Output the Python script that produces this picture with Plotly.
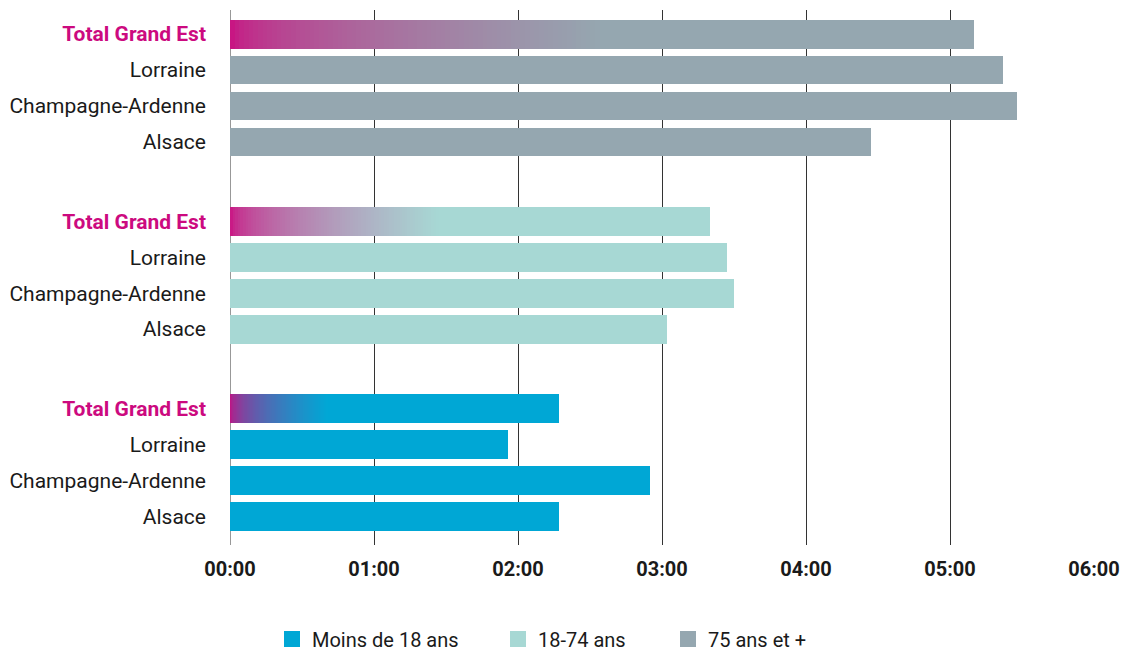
import plotly.graph_objects as go

# ---- data ----
regions = ["Total Grand Est", "Lorraine", "Champagne-Ardenne", "Alsace"]
series_names = ["75 ans et +", "18-74 ans", "Moins de 18 ans"]  # top to bottom in chart
minutes_75_plus = [310, 322, 328, 267]
minutes_18_74 = [200, 207, 210, 182]
minutes_under_18 = [137, 116, 175, 137]
tick_hours = [0, 1, 2, 3, 4, 5, 6]
tick_labels = ["00:00", "01:00", "02:00", "03:00", "04:00", "05:00", "06:00"]
legend_order = ["Moins de 18 ans", "18-74 ans", "75 ans et +"]

# ---- styles ----
MAGENTA = "#cc0a7f"
colors = {"Moins de 18 ans": "#00a7d5", "18-74 ans": "#a7d8d4", "75 ans et +": "#95a7b0"}
gradient_end_hours = {"75 ans et +": 2.6, "18-74 ans": 1.45, "Moins de 18 ans": 0.68}
legend_left_px = {"Moins de 18 ans": 272, "18-74 ans": 498, "75 ans et +": 668}
FONT = "Roboto"
GROUP_GAP = 1.2
BAR_W = 0.8
N_SEG = 80
EASE = 0.5

values = {"75 ans et +": minutes_75_plus, "18-74 ans": minutes_18_74,
          "Moins de 18 ans": minutes_under_18}


def hex_to_rgb(h):
    h = h.lstrip("#")
    return tuple(int(h[i:i + 2], 16) for i in (0, 2, 4))


def mix(c1, c2, t):
    a, b = hex_to_rgb(c1), hex_to_rgb(c2)
    return "rgb(%d,%d,%d)" % tuple(round(a[k] + (b[k] - a[k]) * t) for k in range(3))


fig = go.Figure()
tickvals, ticktext = [], []
for g, name in enumerate(series_names):
    ys = [g * (len(regions) + GROUP_GAP) + i for i in range(len(regions))]
    hours = [m / 60 for m in values[name]]
    fig.add_trace(go.Bar(
        y=ys, x=hours, orientation="h", width=BAR_W,
        marker=dict(color=colors[name], line=dict(width=0)),
        showlegend=False, hoverinfo="x+y", name=name))
    # gradient overlay on the "Total" bar
    gend = min(gradient_end_hours[name], hours[0])
    step = gend / N_SEG
    bases = [k * step for k in range(N_SEG)]
    widths = [step * 1.05] * N_SEG
    cols = [mix(MAGENTA, colors[name], ((k + 0.5) / N_SEG) ** EASE) for k in range(N_SEG)]
    fig.add_trace(go.Bar(
        y=[ys[0]] * N_SEG, x=widths, base=bases, orientation="h", width=BAR_W,
        marker=dict(color=cols, line=dict(width=0)),
        showlegend=False, hoverinfo="skip"))
    for i, r in enumerate(regions):
        tickvals.append(ys[i])
        if i == 0:
            ticktext.append("<b><span style='color:%s'>%s</span></b>" % (MAGENTA, r))
        else:
            ticktext.append(r)

# legend-only entries, one legend each so they can be spaced like the original
legend_layouts = {}
for j, name in enumerate(legend_order):
    key = "legend" if j == 0 else "legend%d" % (j + 1)
    fig.add_trace(go.Scatter(
        x=[None], y=[None], mode="markers", name=name, legend=key,
        marker=dict(symbol="square", size=18, color=colors[name], line=dict(width=0))))
    legend_layouts[key] = dict(
        orientation="h", xref="container", yref="container",
        x=legend_left_px[name] / 1124, xanchor="left", y=(653 - 639) / 653, yanchor="middle",
        font=dict(family=FONT, size=20, color="#1a1a1a"),
        bgcolor="rgba(0,0,0,0)", itemwidth=30)

last = (len(series_names) - 1) * (len(regions) + GROUP_GAP) + len(regions) - 1
fig.update_layout(
    width=1124, height=653,
    margin=dict(l=230, r=30, t=10, b=108, autoexpand=False),
    paper_bgcolor="white", plot_bgcolor="white",
    barmode="overlay", bargap=0,
    font=dict(family=FONT, size=21, color="#1a1a1a"),
    xaxis=dict(range=[0, 6], tickvals=tick_hours, ticktext=tick_labels,
               showgrid=True, gridcolor="#333333", gridwidth=1,
               zeroline=False, showline=False, ticks="", automargin=False,
               tickfont=dict(family=FONT, size=20, color="#1a1a1a", weight="bold"),
               ticklabelstandoff=10),
    yaxis=dict(range=[last + 0.8, -0.67], tickvals=tickvals, ticktext=ticktext,
               showgrid=False, zeroline=False, showline=False, ticks="", automargin=False,
               ticklabelstandoff=23,
               tickfont=dict(family=FONT, size=21, color="#1a1a1a")),
    shapes=[dict(type="line", xref="x", yref="paper", x0=0, x1=0, y0=0, y1=1,
                 line=dict(color="#333333", width=1), layer="below")],
    **legend_layouts,
)

fig.write_html("out.html", config={"displayModeBar": False},
               post_script="document.body.style.margin='0';")
